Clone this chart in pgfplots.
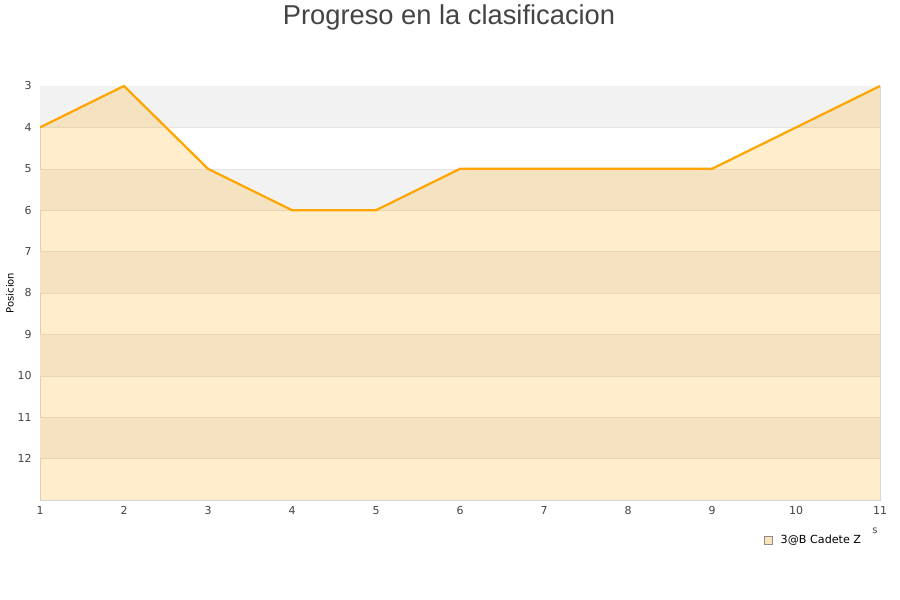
\documentclass[border=0pt]{standalone}
\usepackage{pgfplots}
\pgfplotsset{compat=1.18}
\usepackage{fontspec}
\setmainfont{DejaVu Sans}
\newfontfamily\titlefont{Liberation Sans}
\definecolor{orng}{HTML}{FFA500}
\definecolor{band}{HTML}{F2F2F2}
\definecolor{gridc}{HTML}{E3E3E3}
\definecolor{axc}{HTML}{D9D9D9}
\definecolor{txt}{HTML}{444444}
\definecolor{legfill}{HTML}{FBE3BE}
\begin{document}
\begin{tikzpicture}[x=1bp,y=1bp]
\useasboundingbox (0,0) rectangle (900,600);
\fill[white] (0,0) rectangle (900,600);
\node[font=\titlefont\fontsize{27.4}{31}\selectfont, text=txt] at (449,583) {Progreso en la clasificacion};
\node[font=\fontsize{10}{12}\selectfont, text=txt] at (875,69) {s};
\begin{axis}[at={(40bp,100bp)}, anchor=south west, scale only axis,
  width=840bp, height=414bp,
  xmin=1, xmax=11, ymin=3, ymax=13, y dir=reverse,
  xtick={1,...,11}, ytick={3,...,12},
  tick style={draw=none},
  axis line style={draw=axc},
  /pgf/number format/assume math mode=true,
  ticklabel style={font=\fontsize{11}{13}\selectfont, text=txt},
  xticklabel style={yshift=-3bp},
  yticklabel style={xshift=-5bp},
  ylabel={Posicion},
  ylabel style={font=\fontsize{10}{12}\selectfont, text=txt},
  every axis y label/.style={at={(axis description cs:0,0.5)}, rotate=90, anchor=center, yshift=30bp},
  legend style={at={(axis description cs:0.862,-0.0966)}, anchor=west, draw=none, fill=none,
    font=\fontsize{11.2}{13}\selectfont, inner sep=0pt},
  legend image code/.code={\draw[draw=gray!90, fill=legfill, fill opacity=1, draw opacity=1] (0bp,-4bp) rectangle (8bp,4bp);},
  legend cell align=left,
]
\fill[band] (axis cs:1,3) rectangle (axis cs:11,4);
\fill[band] (axis cs:1,5) rectangle (axis cs:11,6);
\fill[band] (axis cs:1,7) rectangle (axis cs:11,8);
\fill[band] (axis cs:1,9) rectangle (axis cs:11,10);
\fill[band] (axis cs:1,11) rectangle (axis cs:11,12);
\pgfplotsinvokeforeach{4,...,12}{\draw[gridc] (axis cs:1,#1) -- (axis cs:11,#1);}
\addplot[draw=none, fill=orng, fill opacity=0.2] coordinates {
  (1,13) (1,4) (2,3) (3,5) (4,6) (5,6) (6,5) (7,5) (8,5) (9,5) (10,4) (11,3) (11,13)};
\addlegendentry{\hspace{6bp}3@B Cadete Z}
\addplot[orng, line width=2.2bp, forget plot] coordinates {
  (1,4) (2,3) (3,5) (4,6) (5,6) (6,5) (7,5) (8,5) (9,5) (10,4) (11,3)};
\end{axis}
\end{tikzpicture}
\end{document}
